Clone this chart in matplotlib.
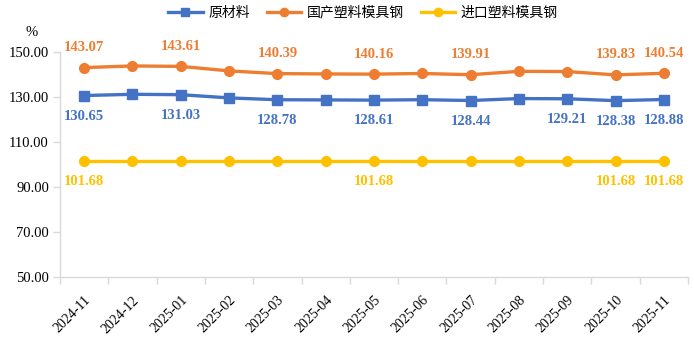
import matplotlib
matplotlib.use("Agg")
import matplotlib.pyplot as plt
import numpy as np
from matplotlib.ticker import FixedLocator

months = ["2024-11", "2024-12", "2025-01", "2025-02", "2025-03", "2025-04", "2025-05",
          "2025-06", "2025-07", "2025-08", "2025-09", "2025-10", "2025-11"]
raw = [130.65, 131.20, 131.03, 129.60, 128.78, 128.70, 128.61, 128.80, 128.44, 129.30, 129.21, 128.38, 128.88]
domestic = [143.07, 143.80, 143.61, 141.60, 140.39, 140.25, 140.16, 140.45, 139.91, 141.40, 141.30, 139.83, 140.54]
imported = [101.68] * 13
series_names = ["原材料", "国产塑料模具钢", "进口塑料模具钢"]
raw_label_idx = [0, 2, 4, 6, 8, 10, 11, 12]
domestic_label_idx = [0, 2, 4, 6, 8, 11, 12]
imported_label_idx = [0, 6, 11, 12]
yticks = [50, 70, 90, 110, 130, 150]

FAM = ["Liberation Serif", "Noto Sans CJK SC", "DejaVu Sans"]
plt.rcParams['font.family'] = FAM

blue, orange, yellow = "#4472C4", "#ED7D31", "#FFC000"
grey = "#D9D9D9"

fig = plt.figure(figsize=(6.94, 3.44), dpi=100)
ax = fig.add_axes([60/694, 1 - 277/344, 628/694, 225/344])
x = np.arange(len(months))

l1, = ax.plot(x, raw, color=blue, lw=2.4, marker="s", ms=7, label=series_names[0], zorder=3)
l2, = ax.plot(x, domestic, color=orange, lw=2.4, marker="o", ms=7, label=series_names[1], zorder=3)
l3, = ax.plot(x, imported, color=yellow, lw=2.4, marker="o", ms=7, label=series_names[2], zorder=3)

for vals, idxs, col, off in [(raw, raw_label_idx, blue, -15),
                             (domestic, domestic_label_idx, orange, 14.5),
                             (imported, imported_label_idx, yellow, -15)]:
    for i in idxs:
        ax.annotate(f"{vals[i]:.2f}", (x[i], vals[i]), xytext=(0, off), textcoords="offset points",
                    ha="center", va="center", color=col, fontsize=10.5, fontweight="bold",
                    family="Liberation Serif")

ax.set_xlim(-0.5, len(months) - 0.5)
ax.set_ylim(50, 150)
ax.set_yticks(yticks)
ax.set_yticklabels([f"{v:.2f}" for v in yticks], fontsize=10.5)
ax.set_xticks(x)
ax.set_xticklabels(months, rotation=45, ha="right", rotation_mode="anchor", fontsize=10)
ax.xaxis.set_minor_locator(FixedLocator(np.arange(-0.5, len(months), 1.0)))
ax.tick_params(axis="x", which="major", length=0, pad=12)
ax.tick_params(axis="x", which="minor", length=5, color=grey, width=1)
ax.tick_params(axis="y", length=5, color=grey, width=1, pad=3)
for s in ["top", "right"]:
    ax.spines[s].set_visible(False)
for s in ["left", "bottom"]:
    ax.spines[s].set_color(grey)
    ax.spines[s].set_linewidth(1)

fig.text(32/694, 1 - 33/344, "%", ha="center", va="center", fontsize=10.5)

fig.legend(handles=[l1, l2, l3], loc="center", bbox_to_anchor=(363/694, 1 - 13/344), ncol=3,
           frameon=False, handlelength=2.5, handletextpad=0.4, columnspacing=1.2,
           markerscale=0.85, prop={"family": FAM, "size": 10})

fig.savefig("out.png", dpi=100)
